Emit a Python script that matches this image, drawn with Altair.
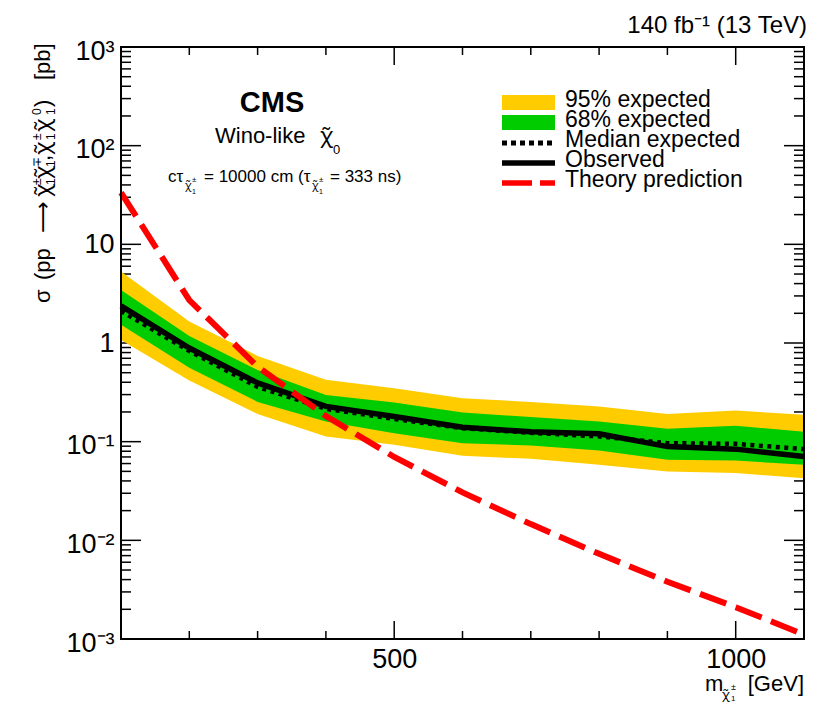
import altair as alt
import pandas as pd

# Chargino mass points [GeV]
mass = [100, 200, 300, 400, 500, 600, 700, 800, 900, 1000, 1100]

# 95% CL upper limits on the cross section [pb]
observed = [2.38, 0.89, 0.394, 0.228, 0.180, 0.140, 0.126, 0.120, 0.0891, 0.0840, 0.0706]
expected = [2.11, 0.83, 0.359, 0.215, 0.170, 0.137, 0.123, 0.113, 0.0966, 0.0950, 0.0840]
exp_lo68 = [1.53, 0.56, 0.253, 0.160, 0.122, 0.0966, 0.0917, 0.0813, 0.0655, 0.0644, 0.0582]
exp_hi68 = [3.45, 1.18, 0.533, 0.298, 0.249, 0.197, 0.178, 0.160, 0.135, 0.145, 0.126]
exp_lo95 = [1.07, 0.418, 0.191, 0.113, 0.093, 0.0718, 0.067, 0.0582, 0.0498, 0.048, 0.0427]
exp_hi95 = [5.29, 1.65, 0.74, 0.423, 0.348, 0.276, 0.253, 0.227, 0.191, 0.207, 0.187]

# Wino-like theory cross section [pb]
theory = [33.5, 2.72, 0.576, 0.182, 0.070, 0.0306, 0.0146, 0.0073, 0.0038, 0.0021, 0.00111]

# Axis tick positions
x_major_ticks = [500, 1000]
x_minor_ticks = [200, 300, 400, 600, 700, 800, 900]
y_major_ticks = [1e-3, 1e-2, 1e-1, 1, 10, 100, 1000]
y_minor_ticks = [m * 10.0 ** k for k in range(-3, 3) for m in range(2, 10)]

W, H = 683, 592
FONT = "Liberation Sans"
GREEK = "Noto Sans"
CHI = "\u03c7\u0303"

df = pd.DataFrame({
    "mass": mass, "obs": observed, "exp": expected,
    "lo1": exp_lo68, "hi1": exp_hi68, "lo2": exp_lo95, "hi2": exp_hi95,
    "theory": theory,
})

xs = alt.Scale(domain=[100, 1100], nice=False, zero=False)
ys = alt.Scale(type="log", domain=[1e-3, 1e3], nice=False)

x_axis = alt.Axis(
    values=x_major_ticks, title=None, format="d", grid=False, domain=False,
    ticks=False, tickSize=0, labelFont=FONT, labelFontSize=27,
    labelColor="black", labelPadding=7,
)
y_axis = alt.Axis(
    values=y_major_ticks, title=None, grid=False, domain=False, ticks=False, tickSize=0,
    labelFont=FONT, labelFontSize=27, labelColor="black", labelPadding=7,
    labelOffset={"condition": {"test": "datum.value > 0.5 && datum.value < 50", "value": 0}, "value": 4},
    labelExpr=(
        "datum.value >= 999 ? '10\u00b3' : datum.value >= 99 ? '10\u00b2' : "
        "datum.value >= 9 ? '10' : datum.value >= 0.9 ? '1' : "
        "datum.value >= 0.09 ? '10\u207b\u00b9' : datum.value >= 0.009 ? '10\u207b\u00b2' : '10\u207b\u00b3'"
    ),
)


def X(field):
    return alt.X(field, type="quantitative", scale=xs, axis=x_axis)


def Y(field):
    return alt.Y(field, type="quantitative", scale=ys, axis=y_axis)


# Inward ticks on all four sides of the frame
def x_ticks(vals, length):
    d = pd.DataFrame({"v": vals})
    bottom = alt.Chart(d).mark_rule(color="black", strokeWidth=1.5).encode(
        x=X("v"), y=alt.value(H), y2=alt.value(H - length))
    top = alt.Chart(d).mark_rule(color="black", strokeWidth=1.5).encode(
        x=X("v"), y=alt.value(0), y2=alt.value(length))
    return [bottom, top]


def y_ticks(vals, length):
    d = pd.DataFrame({"v": vals})
    left = alt.Chart(d).mark_rule(color="black", strokeWidth=1.5).encode(
        y=Y("v"), x=alt.value(0), x2=alt.value(length))
    right = alt.Chart(d).mark_rule(color="black", strokeWidth=1.5).encode(
        y=Y("v"), x=alt.value(W), x2=alt.value(W - length))
    return [left, right]


ticks = (x_ticks(x_minor_ticks, 8) + x_ticks(x_major_ticks, 18)
         + y_ticks(y_minor_ticks, 10) + y_ticks(y_major_ticks[1:-1], 20))

base = alt.Chart(df)
band95 = base.mark_area(color="#ffcc00", opacity=1).encode(x=X("mass"), y=Y("lo2"), y2="hi2")
band68 = base.mark_area(color="#00cc00", opacity=1).encode(x=X("mass"), y=Y("lo1"), y2="hi1")
median = base.mark_line(color="black", strokeWidth=4.5, strokeDash=[4, 4.5]).encode(x=X("mass"), y=Y("exp"))
obs_line = base.mark_line(color="black", strokeWidth=5.5).encode(x=X("mass"), y=Y("obs"))
theory_line = base.mark_line(color="#ff0000", strokeWidth=6, strokeDash=[28, 10]).encode(x=X("mass"), y=Y("theory"))

frame = alt.Chart(pd.DataFrame({"a": [0]})).mark_rect(
    filled=False, stroke="black", strokeWidth=2, fill=None
).encode(x=alt.value(0), x2=alt.value(W), y=alt.value(0), y2=alt.value(H))


def text(t, x, y, size, align="left", weight="normal", font=FONT, angle=None):
    kw = dict(align=align, baseline="alphabetic", font=font, fontSize=size,
              fontWeight=weight, color="black")
    if angle is not None:
        kw["angle"] = angle
    return alt.Chart(pd.DataFrame({"t": [t]})).mark_text(**kw).encode(
        text="t:N", x=alt.value(x), y=alt.value(y))


def vtext(t, x, y, size, font=FONT, align="left"):
    # text reading upwards along the y-axis title
    return text(t, x, y, size, align=align, font=font, angle=270)


# y-axis title: sigma (pp -> chi chi, chi chi) [pb], built from pieces so that
# the chargino charges and indices sit as super/subscripts
YT, SUP, SUB = -71, -80, -66
y_title = [
    vtext("\u03c3", YT, 256, 22),
    vtext("(pp", YT, 233, 22),
    vtext("\u27f6", YT, 170, 22, font="DejaVu Sans", align="center"),
    vtext(CHI, YT, 150, 22, font=GREEK),
    vtext("\u00b1", SUP, 138, 12),
    vtext("1", SUB, 138, 12),
    vtext(CHI, YT, 132, 22, font=GREEK),
    vtext("\u2213", SUP, 120, 12),
    vtext("1", SUB, 120, 12),
    vtext(",", YT, 114, 22),
    vtext(CHI, YT, 108, 22, font=GREEK),
    vtext("\u00b1", SUP, 93, 12),
    vtext("1", SUB, 93, 12),
    vtext(CHI, YT, 85, 22, font=GREEK),
    vtext("0", SUP, 68, 12),
    vtext("1", SUB, 68, 12),
    vtext(")", YT, 60, 22),
    vtext("[pb]", YT, 33, 22),
]

annotations = [
    text("140 fb\u207b\u00b9 (13 TeV)", 686, -14, 24, align="right"),
    text("CMS", 151, 65, 29, align="center", weight="bold"),
    text("Wino-like", 94, 96, 22),
    text(CHI, 199, 96, 22, font=GREEK),
    text("0", 212, 107, 13),
    # c tau line with chargino subscripts
    text("c\u03c4", 47, 135, 17),
    text(CHI, 64, 142, 11, font=GREEK),
    text("\u00b1", 71, 135, 8),
    text("1", 71, 147, 7),
    text("= 10000 cm (\u03c4", 83, 135, 17),
    text(CHI, 191, 142, 11, font=GREEK),
    text("\u00b1", 198, 135, 8),
    text("1", 198, 147, 7),
    text("= 333 ns)", 209, 135, 17),
    # x-axis title
    text("[GeV]", 683, 644, 22, align="right"),
    text("m", 584, 644, 22),
    text(CHI, 601, 652, 13, font=GREEK),
    text("\u00b1", 610, 643, 9),
    text("1", 610, 654, 8),
]

# Legend
LX0, LX1, TX = 381, 434, 444


def swatch_rect(color, y0, y1):
    return alt.Chart(pd.DataFrame({"a": [0]})).mark_rect(color=color, opacity=1).encode(
        x=alt.value(LX0), x2=alt.value(LX1), y=alt.value(y0), y2=alt.value(y1))


def swatch_line(color, y, width, dash=None):
    kw = {"color": color, "strokeWidth": width}
    if dash:
        kw["strokeDash"] = dash
    return alt.Chart(pd.DataFrame({"a": [0]})).mark_rule(**kw).encode(
        x=alt.value(LX0), x2=alt.value(LX1), y=alt.value(y))


legend = [
    swatch_rect("#ffcc00", 48, 63),
    swatch_rect("#00cc00", 68, 83),
    swatch_line("black", 96, 5, [5, 4]),
    swatch_line("black", 116, 5.5),
    swatch_line("#ff0000", 136, 5.5, [30, 8]),
    text("95% expected", TX, 60, 23),
    text("68% expected", TX, 80, 23),
    text("Median expected", TX, 100, 23),
    text("Observed", TX, 120, 23),
    text("Theory prediction", TX, 140, 23),
]

chart = alt.layer(
    *ticks, band95, band68, median, obs_line, theory_line, frame,
    *y_title, *annotations, *legend,
).properties(
    width=W, height=H,
    padding={"left": 121, "top": 47, "right": 33, "bottom": 63},
    autosize=alt.AutoSizeParams(type="none"),
).configure_view(stroke=None).configure(background="white")

chart.save("out.html", embed_options={"renderer": "svg", "actions": False})
